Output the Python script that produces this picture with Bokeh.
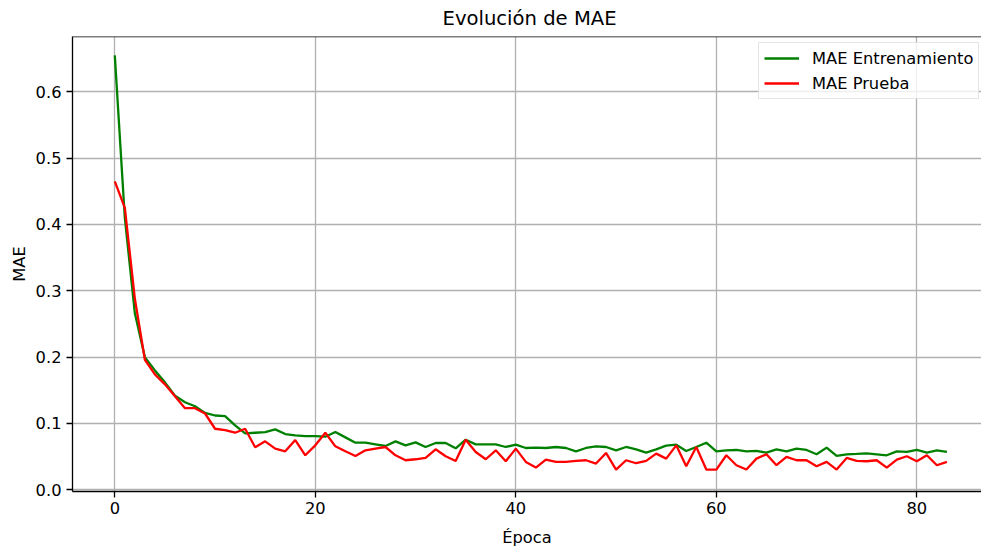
from bokeh.plotting import figure
from bokeh.models import Range1d, FixedTicker, PrintfTickFormatter, Title, Span, Legend, LegendItem
from bokeh.embed import file_html
from bokeh.resources import INLINE

epochs = list(range(84))
mae_train = [0.655, 0.41, 0.266, 0.200, 0.180, 0.162, 0.142, 0.132, 0.126, 0.116,
             0.112, 0.111, 0.097, 0.085, 0.086, 0.087, 0.091, 0.084, 0.082, 0.081,
             0.081, 0.080, 0.087, 0.079, 0.071, 0.071, 0.0685, 0.066, 0.073, 0.067,
             0.0715, 0.0645, 0.0705, 0.0705, 0.0625, 0.0755, 0.0685, 0.0685, 0.0685, 0.0645,
             0.068, 0.063, 0.0635, 0.063, 0.0645, 0.063, 0.058, 0.063, 0.0655, 0.0645,
             0.0595, 0.0645, 0.061, 0.056, 0.061, 0.0665, 0.068, 0.0585, 0.0645, 0.071,
             0.058, 0.0595, 0.060, 0.058, 0.0585, 0.056, 0.061, 0.058, 0.062, 0.060,
             0.0535, 0.0635, 0.051, 0.0535, 0.054, 0.055, 0.0535, 0.052, 0.058, 0.057,
             0.060, 0.056, 0.0595, 0.057]
mae_test = [0.465, 0.425, 0.288, 0.196, 0.174, 0.159, 0.141, 0.123, 0.123, 0.115,
            0.092, 0.090, 0.086, 0.092, 0.064, 0.073, 0.062, 0.058, 0.075, 0.052,
            0.067, 0.086, 0.0655, 0.058, 0.051, 0.0595, 0.062, 0.0645, 0.052, 0.0445,
            0.046, 0.048, 0.061, 0.0505, 0.0435, 0.0755, 0.057, 0.046, 0.0595, 0.043,
            0.062, 0.042, 0.0335, 0.0455, 0.042, 0.042, 0.0435, 0.0445, 0.0395, 0.0555,
            0.0305, 0.0445, 0.040, 0.0435, 0.0545, 0.047, 0.067, 0.0355, 0.0645, 0.0305,
            0.0305, 0.052, 0.037, 0.0305, 0.047, 0.0535, 0.037, 0.0495, 0.0445, 0.0445,
            0.0355, 0.042, 0.0305, 0.048, 0.0435, 0.043, 0.0445, 0.0335, 0.0455, 0.0505,
            0.043, 0.052, 0.037, 0.042]
x_ticks = [0, 20, 40, 60, 80]
y_ticks = [0.0, 0.1, 0.2, 0.3, 0.4, 0.5, 0.6]
title_text = "Evolución de MAE"
x_label = "Época"
y_label = "MAE"
label_train = "MAE Entrenamiento"
label_test = "MAE Prueba"

FONT = "DejaVu Sans"
FS = "16.3px"
Y_END = 0.6834

p = figure(width=981, height=550, output_backend="svg", toolbar_location=None,
           x_range=Range1d(-4.22, 86.45), y_range=Range1d(-0.0026, Y_END),
           min_border_left=72, min_border_right=0, min_border_top=36, min_border_bottom=59,
           title=None)
p.outline_line_color = None
p.background_fill_color = "white"
p.border_fill_color = "white"

# small spacer next to the frame, then the real title above it
p.add_layout(Title(text=" ", standoff=0, text_font=FONT, text_font_size="3px"), "above")
p.add_layout(Title(text=title_text, align="left", offset=370, standoff=0, vertical_align="top",
                   text_font=FONT, text_font_size="19.6px", text_font_style="normal",
                   text_color="black"), "above")

for ax in (p.xaxis[0], p.yaxis[0]):
    ax.axis_line_color = "black"
    ax.axis_line_width = 1.3
    ax.major_tick_line_color = "black"
    ax.major_tick_line_width = 1.3
    ax.major_tick_in = 0
    ax.major_tick_out = 6
    ax.minor_tick_line_color = None
    ax.major_label_text_font = FONT
    ax.major_label_text_font_size = FS
    ax.major_label_text_color = "black"
    ax.axis_label_text_font = FONT
    ax.axis_label_text_font_size = FS
    ax.axis_label_text_font_style = "normal"
    ax.axis_label_text_color = "black"

p.xaxis[0].ticker = FixedTicker(ticks=x_ticks)
p.yaxis[0].ticker = FixedTicker(ticks=y_ticks)
p.yaxis[0].formatter = PrintfTickFormatter(format="%.1f")
p.yaxis[0].axis_label = y_label
p.yaxis[0].axis_label_standoff = 4
p.yaxis[0].major_label_standoff = 5
p.xaxis[0].axis_label = x_label
p.xaxis[0].axis_label_standoff = 11
p.xaxis[0].major_label_standoff = 4

p.xgrid.ticker = FixedTicker(ticks=x_ticks)
p.ygrid.ticker = FixedTicker(ticks=y_ticks)
p.grid.grid_line_color = "#b0b0b0"
p.grid.grid_line_width = 1.3

p.add_layout(Span(location=Y_END, dimension="width", line_color="black", line_width=1.3))

r1 = p.line(epochs, mae_train, line_color="green", line_width=2.3)
r2 = p.line(epochs, mae_test, line_color="red", line_width=2.3)

legend = Legend(items=[LegendItem(label=label_train, renderers=[r1]),
                       LegendItem(label=label_test, renderers=[r2])],
                location=(686, 392), border_line_color="#cccccc", border_line_width=1,
                background_fill_alpha=0.8, label_text_font=FONT, label_text_font_size=FS,
                label_text_color="black", glyph_width=35, glyph_height=20, label_height=20,
                label_standoff=13, padding=5, spacing=5, margin=0)
p.add_layout(legend)

open("out.html", "w").write(file_html(p, INLINE))
